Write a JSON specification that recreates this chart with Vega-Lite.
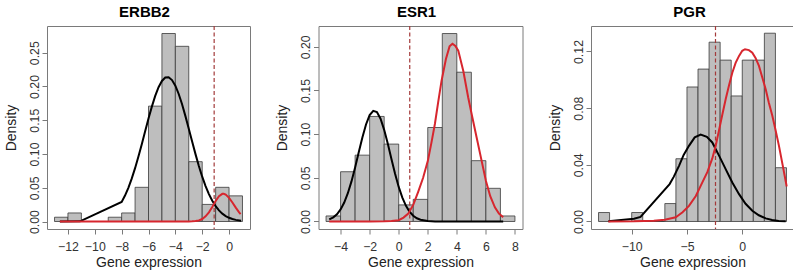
{
  "$schema": "https://vega.github.io/schema/vega-lite/v6.json",
  "autosize": {"type": "pad"},
  "padding": {"left": 3, "top": 4, "right": 0, "bottom": 0},
  "bounds": "flush",
  "spacing": 68.5,
  "resolve": {"scale": {"x": "independent", "y": "independent"}},
  "datasets": {
    "h1": [
      {"a": -13, "b": -12, "d": 0.00633}, {"a": -12, "b": -11, "d": 0.01266}, {"a": -11, "b": -10, "d": 0},
      {"a": -10, "b": -9, "d": 0}, {"a": -9, "b": -8, "d": 0.00633}, {"a": -8, "b": -7, "d": 0.01266},
      {"a": -7, "b": -6, "d": 0.05063}, {"a": -6, "b": -5, "d": 0.17089}, {"a": -5, "b": -4, "d": 0.27848},
      {"a": -4, "b": -3, "d": 0.25949}, {"a": -3, "b": -2, "d": 0.08861}, {"a": -2, "b": -1, "d": 0.02532},
      {"a": -1, "b": 0, "d": 0.05063}, {"a": 0, "b": 1, "d": 0.03797}
    ],
    "v1": [{"cut": -1.11}],
    "c1": [
      {"x": -12.6, "d": 0.0, "comp": "low"}, {"x": -11.1, "d": 0.0003, "comp": "low"}, {"x": -8, "d": 0.029, "comp": "low"},
      {"x": -7.75, "d": 0.0384, "comp": "low"}, {"x": -7.5, "d": 0.0499, "comp": "low"}, {"x": -7.25, "d": 0.0635, "comp": "low"},
      {"x": -7, "d": 0.079, "comp": "low"}, {"x": -6.75, "d": 0.0962, "comp": "low"}, {"x": -6.5, "d": 0.1146, "comp": "low"},
      {"x": -6.25, "d": 0.1336, "comp": "low"}, {"x": -6, "d": 0.1525, "comp": "low"}, {"x": -5.75, "d": 0.1702, "comp": "low"},
      {"x": -5.5, "d": 0.186, "comp": "low"}, {"x": -5.25, "d": 0.1989, "comp": "low"}, {"x": -5, "d": 0.2082, "comp": "low"},
      {"x": -4.75, "d": 0.2132, "comp": "low"}, {"x": -4.5, "d": 0.2136, "comp": "low"}, {"x": -4.25, "d": 0.2095, "comp": "low"},
      {"x": -4, "d": 0.2011, "comp": "low"}, {"x": -3.75, "d": 0.1889, "comp": "low"}, {"x": -3.5, "d": 0.1736, "comp": "low"},
      {"x": -3.25, "d": 0.1561, "comp": "low"}, {"x": -3, "d": 0.1374, "comp": "low"}, {"x": -2.75, "d": 0.1184, "comp": "low"},
      {"x": -2.5, "d": 0.0998, "comp": "low"}, {"x": -2.25, "d": 0.0823, "comp": "low"}, {"x": -2, "d": 0.0664, "comp": "low"},
      {"x": -1.75, "d": 0.0525, "comp": "low"}, {"x": -1.5, "d": 0.0406, "comp": "low"}, {"x": -1.25, "d": 0.0307, "comp": "low"},
      {"x": -1, "d": 0.0227, "comp": "low"}, {"x": -0.75, "d": 0.0165, "comp": "low"}, {"x": -0.5, "d": 0.0117, "comp": "low"},
      {"x": -0.25, "d": 0.0081, "comp": "low"}, {"x": 0, "d": 0.0055, "comp": "low"}, {"x": 0.25, "d": 0.0037, "comp": "low"},
      {"x": 0.5, "d": 0.0024, "comp": "low"}, {"x": 0.9, "d": 0.0011, "comp": "low"},
      {"x": -12.6, "d": 0, "comp": "high"}, {"x": -11.1, "d": 0, "comp": "high"}, {"x": -8, "d": 0, "comp": "high"},
      {"x": -5, "d": 0, "comp": "high"}, {"x": -3.5, "d": 0, "comp": "high"}, {"x": -3, "d": 0.0001, "comp": "high"},
      {"x": -2.75, "d": 0.0002, "comp": "high"}, {"x": -2.5, "d": 0.0006, "comp": "high"}, {"x": -2.25, "d": 0.0016, "comp": "high"},
      {"x": -2, "d": 0.0037, "comp": "high"}, {"x": -1.75, "d": 0.0076, "comp": "high"}, {"x": -1.5, "d": 0.0136, "comp": "high"},
      {"x": -1.25, "d": 0.0216, "comp": "high"}, {"x": -1, "d": 0.0303, "comp": "high"}, {"x": -0.75, "d": 0.0375, "comp": "high"},
      {"x": -0.5, "d": 0.041, "comp": "high"}, {"x": -0.4, "d": 0.041, "comp": "high"}, {"x": -0.25, "d": 0.0398, "comp": "high"},
      {"x": 0, "d": 0.0351, "comp": "high"}, {"x": 0.25, "d": 0.0281, "comp": "high"}, {"x": 0.5, "d": 0.0205, "comp": "high"},
      {"x": 0.75, "d": 0.0135, "comp": "high"}, {"x": 0.86, "d": 0.011, "comp": "high"}
    ],
    "h2": [
      {"a": -5, "b": -4, "d": 0.00633}, {"a": -4, "b": -3, "d": 0.05696}, {"a": -3, "b": -2, "d": 0.07595},
      {"a": -2, "b": -1, "d": 0.12025}, {"a": -1, "b": 0, "d": 0.08861}, {"a": 0, "b": 1, "d": 0.01899},
      {"a": 1, "b": 2, "d": 0.02532}, {"a": 2, "b": 3, "d": 0.10759}, {"a": 3, "b": 4, "d": 0.21519},
      {"a": 4, "b": 5, "d": 0.17089}, {"a": 5, "b": 6, "d": 0.06962}, {"a": 6, "b": 7, "d": 0.03797},
      {"a": 7, "b": 8, "d": 0.00633}
    ],
    "v2": [{"cut": 0.76}],
    "c2": [
      {"x": -4.78, "d": 0.0024, "comp": "low"}, {"x": -4.5, "d": 0.0048, "comp": "low"}, {"x": -4.25, "d": 0.0083, "comp": "low"},
      {"x": -4, "d": 0.0138, "comp": "low"}, {"x": -3.75, "d": 0.0217, "comp": "low"}, {"x": -3.5, "d": 0.0324, "comp": "low"},
      {"x": -3.25, "d": 0.0459, "comp": "low"}, {"x": -3, "d": 0.0619, "comp": "low"}, {"x": -2.75, "d": 0.0792, "comp": "low"},
      {"x": -2.5, "d": 0.0962, "comp": "low"}, {"x": -2.25, "d": 0.1111, "comp": "low"}, {"x": -2, "d": 0.1218, "comp": "low"},
      {"x": -1.75, "d": 0.1267, "comp": "low"}, {"x": -1.5, "d": 0.1253, "comp": "low"}, {"x": -1.25, "d": 0.1177, "comp": "low"},
      {"x": -1, "d": 0.1049, "comp": "low"}, {"x": -0.75, "d": 0.0889, "comp": "low"}, {"x": -0.5, "d": 0.0715, "comp": "low"},
      {"x": -0.25, "d": 0.0546, "comp": "low"}, {"x": 0, "d": 0.0396, "comp": "low"}, {"x": 0.25, "d": 0.0273, "comp": "low"},
      {"x": 0.5, "d": 0.0179, "comp": "low"}, {"x": 0.75, "d": 0.0111, "comp": "low"}, {"x": 1, "d": 0.0066, "comp": "low"},
      {"x": 1.25, "d": 0.0037, "comp": "low"}, {"x": 1.5, "d": 0.002, "comp": "low"}, {"x": 2, "d": 0.0005, "comp": "low"},
      {"x": 2.5, "d": 0.0001, "comp": "low"}, {"x": 3, "d": 0, "comp": "low"}, {"x": 5, "d": 0, "comp": "low"},
      {"x": 7.19, "d": 0, "comp": "low"},
      {"x": -4.78, "d": 0, "comp": "high"}, {"x": -2, "d": 0, "comp": "high"}, {"x": -1, "d": 0.0002, "comp": "high"},
      {"x": -0.5, "d": 0.0006, "comp": "high"}, {"x": 0, "d": 0.0015, "comp": "high"}, {"x": 0.33, "d": 0.0045, "comp": "high"},
      {"x": 0.66, "d": 0.009, "comp": "high"}, {"x": 1.0, "d": 0.019, "comp": "high"}, {"x": 1.34, "d": 0.034, "comp": "high"},
      {"x": 1.68, "d": 0.05, "comp": "high"}, {"x": 2.01, "d": 0.0697, "comp": "high"}, {"x": 2.25, "d": 0.09, "comp": "high"},
      {"x": 2.49, "d": 0.1116, "comp": "high"}, {"x": 2.72, "d": 0.137, "comp": "high"}, {"x": 2.95, "d": 0.1612, "comp": "high"},
      {"x": 3.25, "d": 0.186, "comp": "high"}, {"x": 3.5, "d": 0.2005, "comp": "high"}, {"x": 3.7, "d": 0.2035, "comp": "high"},
      {"x": 3.9, "d": 0.201, "comp": "high"}, {"x": 4.1, "d": 0.1956, "comp": "high"}, {"x": 4.45, "d": 0.172, "comp": "high"},
      {"x": 4.78, "d": 0.1422, "comp": "high"}, {"x": 5.07, "d": 0.119, "comp": "high"}, {"x": 5.36, "d": 0.0964, "comp": "high"},
      {"x": 5.7, "d": 0.07, "comp": "high"}, {"x": 6.0, "d": 0.0467, "comp": "high"}, {"x": 6.3, "d": 0.029, "comp": "high"},
      {"x": 6.62, "d": 0.0162, "comp": "high"}, {"x": 6.9, "d": 0.009, "comp": "high"}, {"x": 7.19, "d": 0.0048, "comp": "high"}
    ],
    "h3": [
      {"a": -13, "b": -12, "d": 0.00633}, {"a": -12, "b": -11, "d": 0}, {"a": -11, "b": -10, "d": 0},
      {"a": -10, "b": -9, "d": 0.00633}, {"a": -9, "b": -8, "d": 0}, {"a": -8, "b": -7, "d": 0},
      {"a": -7, "b": -6, "d": 0.01266}, {"a": -6, "b": -5, "d": 0.0443}, {"a": -5, "b": -4, "d": 0.09494},
      {"a": -4, "b": -3, "d": 0.10759}, {"a": -3, "b": -2, "d": 0.12658}, {"a": -2, "b": -1, "d": 0.11392},
      {"a": -1, "b": 0, "d": 0.08861}, {"a": 0, "b": 1, "d": 0.11392}, {"a": 1, "b": 2, "d": 0.11392},
      {"a": 2, "b": 3, "d": 0.13291}, {"a": 3, "b": 4, "d": 0.03797}
    ],
    "v3": [{"cut": -2.42}],
    "c3": [
      {"x": -12.11, "d": 0.0001, "comp": "low"}, {"x": -9.79, "d": 0.0019, "comp": "low"}, {"x": -9.2, "d": 0.0032, "comp": "low"},
      {"x": -6.57, "d": 0.0264, "comp": "low"}, {"x": -6.2, "d": 0.0315, "comp": "low"}, {"x": -5.72, "d": 0.0393, "comp": "low"},
      {"x": -5.3, "d": 0.047, "comp": "low"}, {"x": -4.82, "d": 0.0534, "comp": "low"}, {"x": -4.3, "d": 0.0594, "comp": "low"},
      {"x": -3.76, "d": 0.0614, "comp": "low"}, {"x": -3.2, "d": 0.0598, "comp": "low"}, {"x": -2.71, "d": 0.0558, "comp": "low"},
      {"x": -2.1, "d": 0.0465, "comp": "low"}, {"x": -1.5, "d": 0.037, "comp": "low"}, {"x": -0.9, "d": 0.0275, "comp": "low"},
      {"x": -0.29, "d": 0.0193, "comp": "low"}, {"x": 0.3, "d": 0.0125, "comp": "low"}, {"x": 0.91, "d": 0.0076, "comp": "low"},
      {"x": 1.5, "d": 0.0044, "comp": "low"}, {"x": 2.12, "d": 0.0022, "comp": "low"}, {"x": 2.7, "d": 0.001, "comp": "low"},
      {"x": 3.3, "d": 0.0004, "comp": "low"}, {"x": 3.93, "d": 0.0001, "comp": "low"},
      {"x": -12.11, "d": 0, "comp": "high"}, {"x": -9.79, "d": 0.0001, "comp": "high"}, {"x": -8, "d": 0.0005, "comp": "high"},
      {"x": -7, "d": 0.0012, "comp": "high"}, {"x": -6.02, "d": 0.003, "comp": "high"}, {"x": -5.4, "d": 0.0065, "comp": "high"},
      {"x": -4.82, "d": 0.011, "comp": "high"}, {"x": -4.2, "d": 0.018, "comp": "high"}, {"x": -3.61, "d": 0.0276, "comp": "high"},
      {"x": -3.15, "d": 0.035, "comp": "high"}, {"x": -2.71, "d": 0.0445, "comp": "high"}, {"x": -2.4, "d": 0.0535, "comp": "high"},
      {"x": -2.1, "d": 0.0645, "comp": "high"}, {"x": -1.8, "d": 0.0755, "comp": "high"}, {"x": -1.5, "d": 0.0863, "comp": "high"},
      {"x": -1.2, "d": 0.096, "comp": "high"}, {"x": -0.9, "d": 0.105, "comp": "high"}, {"x": -0.6, "d": 0.112, "comp": "high"},
      {"x": -0.29, "d": 0.1169, "comp": "high"}, {"x": 0, "d": 0.1205, "comp": "high"}, {"x": 0.25, "d": 0.1216, "comp": "high"},
      {"x": 0.6, "d": 0.121, "comp": "high"}, {"x": 0.91, "d": 0.1192, "comp": "high"}, {"x": 1.2, "d": 0.1155, "comp": "high"},
      {"x": 1.51, "d": 0.1098, "comp": "high"}, {"x": 1.8, "d": 0.102, "comp": "high"}, {"x": 2.12, "d": 0.0934, "comp": "high"},
      {"x": 2.4, "d": 0.084, "comp": "high"}, {"x": 2.72, "d": 0.0746, "comp": "high"}, {"x": 3.0, "d": 0.065, "comp": "high"},
      {"x": 3.32, "d": 0.0534, "comp": "high"}, {"x": 3.65, "d": 0.04, "comp": "high"}, {"x": 4.02, "d": 0.0247, "comp": "high"}
    ]
  },
  "hconcat": [
    {
      "width": 203, "height": 203,
      "title": {"text": "ERBB2", "dx": -4},
      "layer": [
        {"data": {"name": "h1"}, "mark": {"type": "rect", "fill": "#bebebe", "stroke": "#3a3a3a", "strokeWidth": 0.8},
         "encoding": {
           "x": {"field": "a", "type": "quantitative", "scale": {"domain": [-13.56, 1.56], "nice": false, "zero": false},
                 "axis": {"values": [-12, -10, -8, -6, -4, -2, 0], "tickCount": 20, "format": "d", "title": "Gene expression"}},
           "x2": {"field": "b"},
           "y": {"field": "d", "type": "quantitative", "scale": {"domain": [-0.0111, 0.2896], "nice": false, "zero": false},
                 "axis": {"values": [0, 0.05, 0.1, 0.15, 0.2, 0.25], "tickCount": 20, "format": ".2f", "title": "Density"}},
           "y2": {"datum": 0}}},
        {"data": {"name": "v1"}, "mark": {"type": "rule", "stroke": "#a33a3a", "strokeDash": [4, 2.5], "strokeWidth": 1.2},
         "encoding": {"x": {"field": "cut", "type": "quantitative"}}},
        {"data": {"name": "c1"}, "transform": [{"filter": "datum.comp === 'low'"}],
         "mark": {"type": "line", "stroke": "#000000", "strokeWidth": 2},
         "encoding": {"x": {"field": "x", "type": "quantitative"}, "y": {"field": "d", "type": "quantitative"}}},
        {"data": {"name": "c1"}, "transform": [{"filter": "datum.comp === 'high'"}],
         "mark": {"type": "line", "stroke": "#d7262e", "strokeWidth": 2},
         "encoding": {"x": {"field": "x", "type": "quantitative"}, "y": {"field": "d", "type": "quantitative"}}}
      ]
    },
    {
      "width": 204, "height": 203,
      "title": {"text": "ESR1", "dx": -4},
      "layer": [
        {"data": {"name": "h2"}, "mark": {"type": "rect", "fill": "#bebebe", "stroke": "#3a3a3a", "strokeWidth": 0.8},
         "encoding": {
           "x": {"field": "a", "type": "quantitative", "scale": {"domain": [-5.52, 8.52], "nice": false, "zero": false},
                 "axis": {"values": [-4, -2, 0, 2, 4, 6, 8], "tickCount": 20, "format": "d", "title": "Gene expression"}},
           "x2": {"field": "b"},
           "y": {"field": "d", "type": "quantitative", "scale": {"domain": [-0.0086, 0.2238], "nice": false, "zero": false},
                 "axis": {"values": [0, 0.05, 0.1, 0.15, 0.2], "tickCount": 20, "format": ".2f", "title": "Density"}},
           "y2": {"datum": 0}}},
        {"data": {"name": "v2"}, "mark": {"type": "rule", "stroke": "#a33a3a", "strokeDash": [4, 2.5], "strokeWidth": 1.2},
         "encoding": {"x": {"field": "cut", "type": "quantitative"}}},
        {"data": {"name": "c2"}, "transform": [{"filter": "datum.comp === 'low'"}],
         "mark": {"type": "line", "stroke": "#000000", "strokeWidth": 2},
         "encoding": {"x": {"field": "x", "type": "quantitative"}, "y": {"field": "d", "type": "quantitative"}}},
        {"data": {"name": "c2"}, "transform": [{"filter": "datum.comp === 'high'"}],
         "mark": {"type": "line", "stroke": "#d7262e", "strokeWidth": 2},
         "encoding": {"x": {"field": "x", "type": "quantitative"}, "y": {"field": "d", "type": "quantitative"}}}
      ]
    },
    {
      "width": 203, "height": 203,
      "title": {"text": "PGR", "dx": -3},
      "layer": [
        {"data": {"name": "h3"}, "mark": {"type": "rect", "fill": "#bebebe", "stroke": "#3a3a3a", "strokeWidth": 0.8},
         "encoding": {
           "x": {"field": "a", "type": "quantitative", "scale": {"domain": [-13.68, 4.68], "nice": false, "zero": false},
                 "axis": {"values": [-10, -5, 0], "tickCount": 20, "format": "d", "title": "Gene expression"}},
           "x2": {"field": "b"},
           "y": {"field": "d", "type": "quantitative", "scale": {"domain": [-0.0053, 0.138], "nice": false, "zero": false},
                 "axis": {"values": [0, 0.04, 0.08, 0.12], "tickCount": 20, "format": ".2f", "title": "Density"}},
           "y2": {"datum": 0}}},
        {"data": {"name": "v3"}, "mark": {"type": "rule", "stroke": "#a33a3a", "strokeDash": [4, 2.5], "strokeWidth": 1.2},
         "encoding": {"x": {"field": "cut", "type": "quantitative"}}},
        {"data": {"name": "c3"}, "transform": [{"filter": "datum.comp === 'low'"}],
         "mark": {"type": "line", "stroke": "#000000", "strokeWidth": 2},
         "encoding": {"x": {"field": "x", "type": "quantitative"}, "y": {"field": "d", "type": "quantitative"}}},
        {"data": {"name": "c3"}, "transform": [{"filter": "datum.comp === 'high'"}],
         "mark": {"type": "line", "stroke": "#d7262e", "strokeWidth": 2},
         "encoding": {"x": {"field": "x", "type": "quantitative"}, "y": {"field": "d", "type": "quantitative"}}}
      ]
    }
  ],
  "config": {
    "font": "Liberation Sans",
    "background": "#ffffff",
    "view": {"stroke": "#7a7a7a", "strokeWidth": 1},
    "axis": {
      "domain": false, "grid": false, "tickColor": "#7a7a7a", "tickSize": 5, "tickWidth": 1,
      "labelFont": "Liberation Sans", "labelFontSize": 12.3, "labelColor": "#333333", "labelFlush": false, "labelOverlap": false,
      "titleFont": "Liberation Sans", "titleFontSize": 14, "titleFontWeight": "normal", "titleColor": "#222222"
    },
    "axisY": {"labelAngle": -90, "labelAlign": "center", "labelBaseline": "bottom", "labelPadding": 1, "titlePadding": 10},
    "axisX": {"labelPadding": 6, "titlePadding": 3.5, "labelAngle": 0},
    "title": {"font": "Liberation Sans", "fontSize": 15, "fontWeight": "bold", "color": "#000000", "offset": 5, "baseline": "alphabetic"}
  }
}
